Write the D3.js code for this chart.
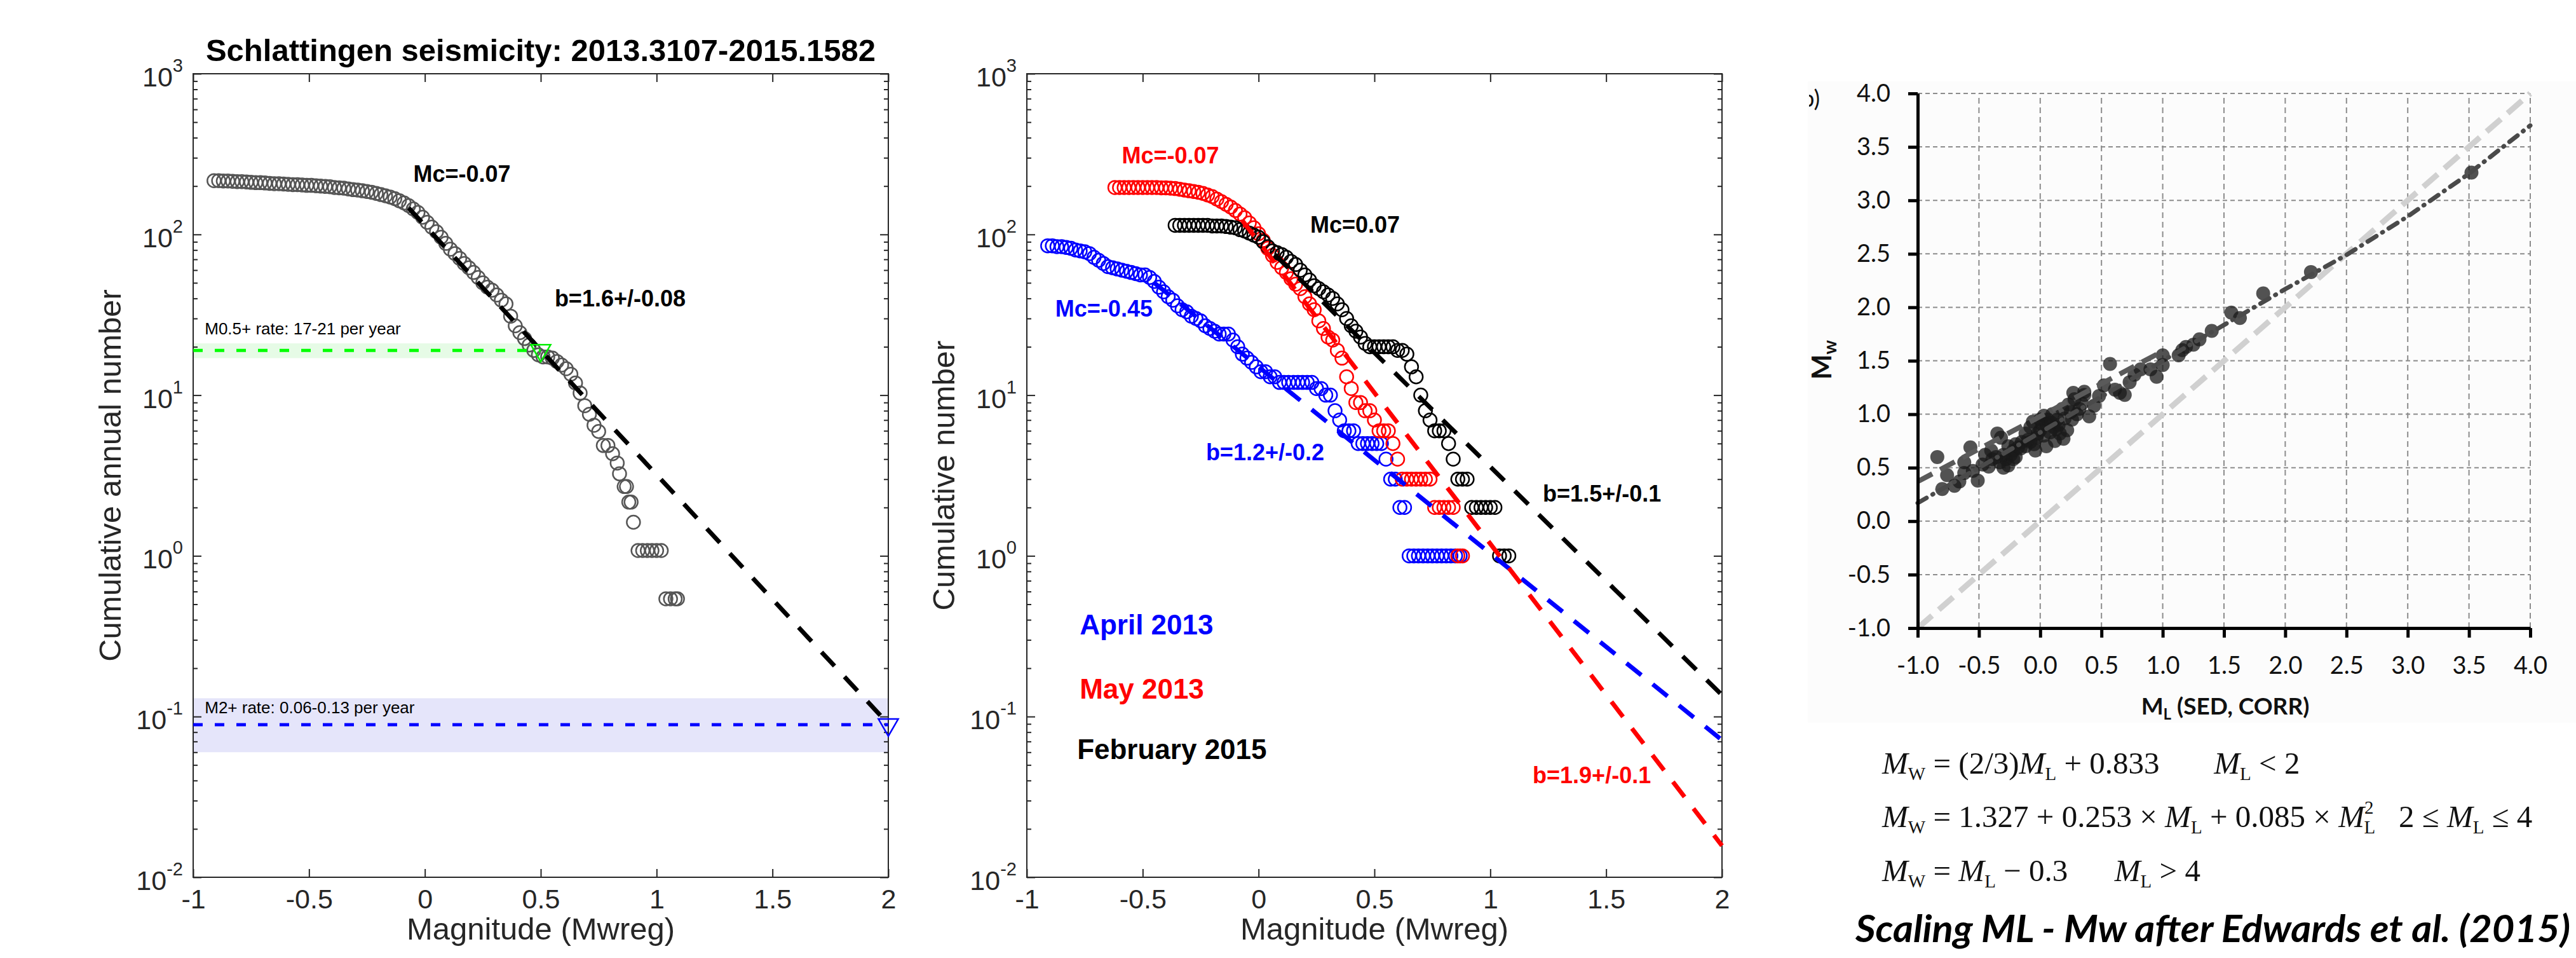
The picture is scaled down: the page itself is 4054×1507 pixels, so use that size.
<!DOCTYPE html>
<html>
<head>
<meta charset="utf-8">
<script src="https://cdn.jsdelivr.net/npm/d3@7"></script>
<style>
body { margin: 0; background: #fff; }
text { white-space: pre; }
</style>
</head>
<body>
<div id="chart"></div>
<script>
var W = 4054, H = 1507;

// ---- shared ticks ----
var magTicks = [-1, -0.5, 0, 0.5, 1, 1.5, 2];
var decadeExp = [-2, -1, 0, 1, 2, 3];
var mlTicks = [-1, -0.5, 0, 0.5, 1, 1.5, 2, 2.5, 3, 3.5, 4];

// ---- left panel: Schlattingen annual cumulative numbers [magnitude, annual number] ----
var schlattingen = [
  [-0.91,216],[-0.89,216],[-0.87,215],[-0.85,215],[-0.83,214],[-0.81,213],[-0.79,213],[-0.77,212],
  [-0.75,211],[-0.73,210],[-0.71,210],[-0.69,209],[-0.67,208],[-0.65,207],[-0.63,207],[-0.61,206],
  [-0.59,205],[-0.57,204],[-0.55,204],[-0.53,203],[-0.51,202],[-0.49,202],[-0.47,201],[-0.45,200],
  [-0.43,199],[-0.41,198],[-0.39,196],[-0.37,195],[-0.35,194],[-0.33,192],[-0.31,190],[-0.29,189],
  [-0.27,187],[-0.25,185],[-0.23,183],[-0.21,180],[-0.19,177],[-0.17,174],[-0.15,171],[-0.13,167],
  [-0.11,162],[-0.09,157],[-0.07,151],[-0.05,144],[-0.03,137],[-0.01,128],[0.01,119],[0.03,111],
  [0.05,104],[0.07,96],[0.09,88],[0.11,81],[0.13,76],[0.15,71],[0.17,66],[0.19,62],[0.21,58],
  [0.23,54],[0.25,50],[0.27,47],[0.29,45],[0.31,42],[0.33,39],[0.35,37],[0.37,31],[0.39,27],
  [0.41,24.5],[0.43,22.5],[0.45,20.5],[0.47,19],[0.49,17.8],[0.51,17.3],[0.53,17.3],[0.55,17],
  [0.57,16.2],[0.59,15.4],[0.61,14.6],[0.63,13.5],[0.65,11.9],[0.67,10.3],[0.69,8.6],[0.71,7.6],
  [0.73,6.5],[0.75,5.94],[0.77,4.86],[0.79,4.86],[0.81,4.32],[0.83,3.78],[0.84,3.24],[0.86,2.7],
  [0.87,2.7],[0.88,2.16],[0.89,2.16],[0.90,1.62],[0.92,1.08],[0.94,1.08],[0.96,1.08],[0.98,1.08],
  [1.00,1.08],[1.02,1.08],[1.04,0.54],[1.06,0.54],[1.08,0.54],[1.09,0.54]
];
var schlattingenFit = [[-0.07,146],[2,0.09]];
var rateM05 = [17, 19, 21];      // low, estimate, high (per year)
var rateM2 = [0.06, 0.089, 0.13];

// ---- middle panel: cumulative numbers per period [magnitude, number] ----
var april2013 = [
  [-0.91,85],[-0.89,85],[-0.87,84],[-0.85,84],[-0.83,83],[-0.81,82],[-0.79,80],[-0.77,79],[-0.75,78],
  [-0.73,76],[-0.71,72],[-0.69,69],[-0.67,66],[-0.65,63],[-0.63,62],[-0.61,61],[-0.59,60],[-0.57,59],
  [-0.55,58],[-0.53,57],[-0.51,56],[-0.49,56],[-0.47,54],[-0.45,51],[-0.43,47],[-0.41,44],[-0.39,41],
  [-0.37,39],[-0.35,36],[-0.33,34],[-0.31,33],[-0.29,31],[-0.27,30],[-0.25,29],[-0.23,27],[-0.21,26],
  [-0.19,25],[-0.17,24],[-0.15,24],[-0.13,24],[-0.11,22],[-0.09,20],[-0.07,18],[-0.05,17],[-0.03,16],
  [-0.01,15],[0.01,14],[0.03,14],[0.05,13],[0.07,13],[0.09,12],[0.11,12],[0.13,12],[0.15,12],[0.17,12],
  [0.19,12],[0.21,12],[0.23,12],[0.25,11],[0.27,11],[0.29,10],[0.31,10],[0.33,8],[0.35,7],[0.37,6],
  [0.39,6],[0.41,6],[0.43,5],[0.45,5],[0.47,5],[0.49,5],[0.51,5],[0.53,5],[0.55,4],[0.57,3],[0.59,3],
  [0.61,2],[0.63,2],[0.65,1],[0.67,1],[0.69,1],[0.71,1],[0.73,1],[0.75,1],[0.77,1],[0.79,1],[0.81,1],
  [0.83,1],[0.85,1],[0.87,1]
];
var may2013 = [
  [-0.62,196],[-0.60,196],[-0.58,196],[-0.56,196],[-0.54,196],[-0.52,196],[-0.50,196],[-0.48,196],
  [-0.46,196],[-0.44,196],[-0.42,195],[-0.40,195],[-0.38,194],[-0.36,193],[-0.34,191],[-0.32,189],
  [-0.30,187],[-0.28,185],[-0.26,183],[-0.24,180],[-0.22,176],[-0.20,172],[-0.18,166],[-0.16,160],
  [-0.14,154],[-0.12,148],[-0.10,141],[-0.08,134],[-0.06,127],[-0.04,118],[-0.02,110],[0.00,101],
  [0.02,92],[0.04,82],[0.06,74],[0.08,67],[0.10,62],[0.12,58],[0.14,53],[0.16,49],[0.18,46],[0.20,41],
  [0.22,37],[0.24,34],[0.26,29],[0.28,26],[0.30,23],[0.32,22],[0.34,19],[0.36,17],[0.38,13],[0.40,11],
  [0.42,9],[0.44,9],[0.46,8],[0.48,8],[0.50,7],[0.52,6],[0.54,6],[0.56,6],[0.58,5],[0.60,4],[0.62,3],
  [0.64,3],[0.66,3],[0.68,3],[0.70,3],[0.72,3],[0.74,3],[0.76,2],[0.78,2],[0.80,2],[0.82,2],[0.84,2],
  [0.86,1],[0.88,1]
];
var feb2015 = [
  [-0.36,114],[-0.34,114],[-0.32,114],[-0.30,114],[-0.28,114],[-0.26,114],[-0.24,114],[-0.22,114],
  [-0.20,113],[-0.18,113],[-0.16,113],[-0.14,112],[-0.12,111],[-0.10,110],[-0.08,107],[-0.06,105],
  [-0.04,102],[-0.02,99],[0.00,96],[0.02,90],[0.04,84],[0.06,79],[0.08,77],[0.10,75],[0.12,72],
  [0.14,68],[0.16,65],[0.18,60],[0.20,56],[0.22,52],[0.24,48],[0.26,46],[0.28,44],[0.30,42],[0.32,40],
  [0.34,37],[0.36,34],[0.38,30],[0.40,27],[0.42,25],[0.44,23],[0.46,21],[0.48,20],[0.50,20],[0.52,20],
  [0.54,20],[0.56,20],[0.58,20],[0.60,19],[0.62,19],[0.64,18],[0.66,15],[0.68,13],[0.70,10],[0.72,8],
  [0.74,7],[0.76,6],[0.78,6],[0.80,6],[0.82,5],[0.84,4],[0.86,3],[0.88,3],[0.90,3],[0.92,2],[0.94,2],
  [0.96,2],[0.98,2],[1.00,2],[1.02,2],[1.04,1],[1.06,1],[1.08,1]
];
var aprilFit = [[-0.45,50],[2,0.0714]];
var mayFit = [[-0.07,122],[2,0.0157]];
var febFit = [[0.07,75],[2,0.136]];

// ---- right panel: ML vs Mw [ML, Mw] ----
var mlMw = [
  [3.52,3.26],[2.21,2.33],[1.82,2.13],[1.56,1.95],[1.63,1.90],[1.40,1.78],[1.19,1.63],[1.13,1.55],
  [1.16,1.60],[1.00,1.55],[1.00,1.46],[0.57,1.47],[0.77,1.37],[0.82,1.42],[0.73,1.30],[0.61,1.23],
  [0.69,1.18],[0.65,1.20],[0.48,1.17],[0.36,1.18],[0.32,1.05],[0.23,1.09],[0.40,0.98],[0.44,1.08],
  [0.28,1.14],[0.36,1.21],[0.25,1.02],[0.20,0.96],[0.15,0.90],[0.11,0.88],[0.03,0.985],[0.05,0.91],
  [-0.06,0.93],[0.00,0.85],[0.03,0.80],[0.08,0.83],[0.19,0.77],[0.12,0.75],[-0.03,0.78],[-0.10,0.76],
  [-0.05,0.72],[-0.15,0.74],[-0.18,0.69],[-0.35,0.82],[-0.32,0.78],[-0.26,0.70],[-0.22,0.66],
  [-0.30,0.62],[-0.28,0.58],[-0.39,0.58],[-0.26,0.52],[-0.33,0.55],[-0.47,0.53],[-0.42,0.51],
  [-0.55,0.47],[-0.57,0.69],[-0.51,0.38],[-0.66,0.37],[-0.76,0.43],[-0.84,0.60],[-0.80,0.30],
  [-0.70,0.33],[-0.62,0.45],[-0.08,0.88],[0.00,0.95],[0.10,1.00],[-0.12,0.82],[0.14,0.95],[-0.20,0.72],
  [-0.45,0.62],[-0.40,0.66],[-0.36,0.60],[-0.24,0.62],[-0.20,0.60],[-0.16,0.68],[-0.12,0.70],
  [-0.08,0.74],[-0.02,0.82],[0.02,0.90],[0.06,0.95],[0.09,0.92],[0.13,0.86],[0.16,0.82],[0.22,0.85],
  [0.26,0.95],[0.30,1.00],[0.34,1.10],[0.18,1.05],[-0.04,0.66],[0.05,0.70],[-0.30,0.50],[-0.22,0.58],
  [0.27,1.20],[0.52,1.27],[0.90,1.42],[0.95,1.35],[1.25,1.65],[1.30,1.70],[-0.62,0.55]
];
var edwardsCurve = [[-1,0.17],[0,0.83],[1,1.50],[2,2.17],[2.5,2.49],[3,2.85],[3.5,3.25],[4,3.70]];
var linearFit = [[-1,0.37],[1.0,1.59]];
var oneToOne = [[-1,-1],[4,4]];

var svg = d3.select("#chart").append("svg")
  .attr("width", W).attr("height", H)
  .style("font-family", "'Liberation Sans', Arial, sans-serif");
svg.append("rect").attr("width", W).attr("height", H).attr("fill", "#fff");

var axisColor = "#262626";

function fmdPanel(left) {
  var x = d3.scaleLinear().domain([-1, 2]).range([left, left + 1094]);
  var y = d3.scaleLog().domain([0.01, 1000]).range([1380, 116]);
  return { x: x, y: y, g: svg.append("g") };
}

function drawFrame(p, ylabel) {
  var g = p.g, x = p.x, y = p.y;
  var x0 = x.range()[0], x1 = x.range()[1], y0 = y.range()[1], y1 = y.range()[0];
  var majors = decadeExp.map(function(e) { return Math.pow(10, e); });
  var minors = y.ticks().filter(function(v) {
    return Math.abs(Math.log10(v) - Math.round(Math.log10(v))) > 1e-6;
  });

  var bottom = g.append("g").attr("transform", "translate(0," + y1 + ")")
    .call(d3.axisBottom(x).tickValues(magTicks).tickSize(-13).tickSizeOuter(0)
      .tickPadding(18).tickFormat(function(d) { return String(d); }));
  bottom.selectAll("text").attr("font-size", 43).attr("fill", axisColor)
    .style("font-family", "'Liberation Sans', Arial, sans-serif");
  g.append("g").attr("transform", "translate(0," + y0 + ")")
    .call(d3.axisTop(x).tickValues(magTicks).tickSize(-13).tickSizeOuter(0).tickFormat(""));
  [[d3.axisLeft, x0], [d3.axisRight, x1]].forEach(function(a) {
    g.append("g").attr("transform", "translate(" + a[1] + ",0)")
      .call(a[0](y).tickValues(majors).tickSize(-13).tickSizeOuter(0).tickFormat(""));
    g.append("g").attr("transform", "translate(" + a[1] + ",0)")
      .call(a[0](y).tickValues(minors).tickSize(-7).tickSizeOuter(0).tickFormat(""));
  });
  g.selectAll(".domain").remove();
  g.selectAll(".tick line").attr("stroke", axisColor).attr("stroke-width", 2);

  g.append("rect").attr("x", x0).attr("y", y0).attr("width", x1 - x0).attr("height", y1 - y0)
    .attr("fill", "none").attr("stroke", axisColor).attr("stroke-width", 2);

  // 10^k labels
  var lab = g.append("g").selectAll("text").data(decadeExp).enter().append("text")
    .attr("x", x0 - 16).attr("y", function(e) { return y(Math.pow(10, e)) + 20; })
    .attr("text-anchor", "end").attr("fill", axisColor).attr("font-size", 43);
  lab.append("tspan").text("10");
  lab.append("tspan").attr("dy", -23).attr("font-size", 29).text(function(e) { return String(e); });

  g.append("text").attr("x", (x0 + x1) / 2).attr("y", 1478).attr("text-anchor", "middle")
    .attr("font-size", 49).attr("fill", axisColor).text("Magnitude (Mwreg)");
  g.append("text").attr("transform", "translate(" + (x0 - 114) + "," + ((y0 + y1) / 2) + ") rotate(-90)")
    .attr("text-anchor", "middle").attr("font-size", 49).attr("fill", axisColor).text(ylabel);
}

function circles(p, data, color) {
  p.g.append("g").selectAll("circle").data(data).enter().append("circle")
    .attr("cx", function(d) { return p.x(d[0]); })
    .attr("cy", function(d) { return p.y(d[1]); })
    .attr("r", 10.5).attr("fill", "none").attr("stroke", color).attr("stroke-width", 2.5);
}

function dashLine(p, data, color, width, dash) {
  p.g.append("path").datum(data)
    .attr("d", d3.line().x(function(d) { return p.x(d[0]); }).y(function(d) { return p.y(d[1]); }))
    .attr("fill", "none").attr("stroke", color).attr("stroke-width", width)
    .attr("stroke-dasharray", dash);
}

function note(p, m, n, str, color, size, bold) {
  p.g.append("text").attr("x", p.x(m)).attr("y", p.y(n)).attr("fill", color)
    .attr("font-size", size).attr("font-weight", bold ? "bold" : "normal").text(str);
}

function triangle(p, m, n, color) {
  p.g.append("path")
    .attr("d", d3.symbol().type(d3.symbolTriangle).size(420)())
    .attr("transform", "translate(" + p.x(m) + "," + p.y(n) + ") rotate(180)")
    .attr("fill", "none").attr("stroke", color).attr("stroke-width", 2.5);
}

// ===== left panel =====
var L = fmdPanel(304);
L.g.append("rect").attr("x", L.x(-1)).attr("y", L.y(rateM2[2]))
  .attr("width", L.x(2) - L.x(-1)).attr("height", L.y(rateM2[0]) - L.y(rateM2[2]))
  .attr("fill", "rgb(229,229,250)");
L.g.append("rect").attr("x", L.x(-1)).attr("y", L.y(rateM05[2]))
  .attr("width", L.x(0.5) - L.x(-1)).attr("height", L.y(rateM05[0]) - L.y(rateM05[2]))
  .attr("fill", "rgb(230,251,230)");
drawFrame(L, "Cumulative annual number");
circles(L, schlattingen, "#555555");
dashLine(L, [[-1, rateM05[1]], [0.5, rateM05[1]]], "#00ff00", 5, "15,19");
dashLine(L, [[-1, rateM2[1]], [2, rateM2[1]]], "#0000ff", 5, "15,19");
dashLine(L, schlattingenFit, "#000", 7, "30,23");
triangle(L, 0.5, rateM05[1], "#00ee00");
triangle(L, 2, rateM2[1], "#0000ff");
note(L, -0.05, 212, "Mc=-0.07", "#000", 36, true);
note(L, 0.56, 35.6, "b=1.6+/-0.08", "#000", 36, true);
note(L, -0.95, 23.9, "M0.5+ rate: 17-21 per year", "#000", 26, false);
note(L, -0.95, 0.105, "M2+ rate: 0.06-0.13 per year", "#000", 26, false);
L.g.append("text").attr("x", L.x(0.5)).attr("y", 96).attr("text-anchor", "middle")
  .attr("font-size", 49).attr("font-weight", "bold").attr("fill", "#000")
  .text("Schlattingen seismicity: 2013.3107-2015.1582");

// ===== middle panel =====
var M = fmdPanel(1616);
drawFrame(M, "Cumulative number");
circles(M, april2013, "#0000ff");
circles(M, may2013, "#ff0000");
circles(M, feb2015, "#000000");
dashLine(M, aprilFit, "#0000ff", 7, "30,23");
dashLine(M, mayFit, "#ff0000", 7, "30,23");
dashLine(M, febFit, "#000000", 7, "30,23");
note(M, -0.59, 276, "Mc=-0.07", "#ff0000", 36, true);
note(M, 0.223, 102.6, "Mc=0.07", "#000", 36, true);
note(M, -0.877, 30.8, "Mc=-0.45", "#0000ff", 36, true);
note(M, -0.227, 3.94, "b=1.2+/-0.2", "#0000ff", 36, true);
note(M, 1.227, 2.18, "b=1.5+/-0.1", "#000", 36, true);
note(M, 1.183, 0.0385, "b=1.9+/-0.1", "#ff0000", 36, true);
note(M, -0.772, 0.324, "April 2013", "#0000ff", 44, true);
note(M, -0.772, 0.129, "May 2013", "#ff0000", 44, true);
note(M, -0.783, 0.0545, "February 2015", "#000", 44, true);

// ===== right panel =====
var xR = d3.scaleLinear().domain([-1, 4]).range([3018, 3982]);
var yR = d3.scaleLinear().domain([-1, 4]).range([988, 147]);
var R = svg.append("g").style("font-family", "Lato, 'Open Sans', sans-serif");
R.append("rect").attr("x", 2845).attr("y", 128).attr("width", W - 2845).attr("height", 1009)
  .attr("fill", "#fcfcfc");

R.append("g").selectAll("line").data(mlTicks.slice(1)).enter().append("line")
  .attr("x1", xR(-1)).attr("x2", xR(4)).attr("y1", function(d) { return yR(d); }).attr("y2", function(d) { return yR(d); })
  .attr("stroke", "#8c8c8c").attr("stroke-width", 2).attr("stroke-dasharray", "7,5");
R.append("g").selectAll("line").data(mlTicks.slice(1)).enter().append("line")
  .attr("y1", yR(-1)).attr("y2", yR(4)).attr("x1", function(d) { return xR(d); }).attr("x2", function(d) { return xR(d); })
  .attr("stroke", "#8c8c8c").attr("stroke-width", 2).attr("stroke-dasharray", "9,6");

var lineR = d3.line().x(function(d) { return xR(d[0]); }).y(function(d) { return yR(d[1]); });
R.append("path").datum(oneToOne).attr("d", lineR).attr("fill", "none")
  .attr("stroke", "#d0d0d0").attr("stroke-width", 9).attr("stroke-dasharray", "30,14");
R.append("g").selectAll("circle").data(mlMw).enter().append("circle")
  .attr("cx", function(d) { return xR(d[0]); }).attr("cy", function(d) { return yR(d[1]); })
  .attr("r", 11).attr("fill", "#1a1a1a").attr("fill-opacity", 0.75);
R.append("path").datum(linearFit).attr("d", lineR).attr("fill", "none")
  .attr("stroke", "#5a5a5a").attr("stroke-width", 8).attr("stroke-dasharray", "26,14");
R.append("path").datum(edwardsCurve).attr("d", lineR).attr("fill", "none")
  .attr("stroke", "#4a4a4a").attr("stroke-width", 7).attr("stroke-linecap", "round")
  .attr("stroke-dasharray", "16,11,1,11");

var axB = R.append("g").attr("transform", "translate(0," + yR(-1) + ")")
  .call(d3.axisBottom(xR).tickValues(mlTicks).tickSize(15).tickSizeOuter(0).tickPadding(30)
    .tickFormat(function(d) { return d.toFixed(1); }));
var axL = R.append("g").attr("transform", "translate(" + xR(-1) + ",0)")
  .call(d3.axisLeft(yR).tickValues(mlTicks).tickSize(15).tickSizeOuter(0).tickPadding(28)
    .tickFormat(function(d) { return d.toFixed(1); }));
[axB, axL].forEach(function(a) {
  a.select(".domain").attr("stroke", "#000").attr("stroke-width", 5);
  a.selectAll(".tick line").attr("stroke", "#000").attr("stroke-width", 5);
  a.selectAll("text").attr("font-size", 38).attr("fill", "#111")
    .style("font-family", "Lato, 'Open Sans', sans-serif");
});

var xt = R.append("text").attr("x", 3502).attr("y", 1124).attr("text-anchor", "middle")
  .attr("font-size", 37).attr("font-weight", "bold").attr("fill", "#111");
xt.append("tspan").text("M");
xt.append("tspan").attr("font-size", 24).attr("dy", 8).text("L");
xt.append("tspan").attr("dy", -8).text(" (SED, CORR)");

var yt = R.append("text").attr("transform", "translate(2882,566) rotate(-90)")
  .attr("text-anchor", "middle").attr("font-size", 42).attr("font-weight", "bold").attr("fill", "#111");
yt.append("tspan").text("M");
yt.append("tspan").attr("font-size", 28).attr("dy", 8).text("w");

svg.append("clipPath").attr("id", "bclip").append("rect")
  .attr("x", 2847).attr("y", 120).attr("width", 40).attr("height", 70);
R.append("text").attr("x", 2864).attr("y", 168).attr("text-anchor", "end")
  .attr("font-size", 36).attr("fill", "#111").attr("clip-path", "url(#bclip)").text("b)");

// equations
var eq = R.append("g").style("font-family", "'Liberation Serif', 'Times New Roman', serif")
  .attr("font-size", 49).attr("fill", "#111");
function mSub(t, sub) {
  t.append("tspan").attr("font-style", "italic").text("M");
  t.append("tspan").attr("font-size", 29).attr("dy", 10).text(sub);
  return t.append("tspan").attr("dy", -10);
}
var e1 = eq.append("text").attr("x", 2962).attr("y", 1217);
mSub(e1, "W").text(" = (2/3)");
mSub(e1, "L").text(" + 0.833       ");
mSub(e1, "L").text(" < 2");

var e2 = eq.append("text").attr("x", 2962).attr("y", 1301);
mSub(e2, "W").text(" = 1.327 + 0.253 × ");
mSub(e2, "L").text(" + 0.085 × ");
e2.append("tspan").attr("font-style", "italic").text("M");
e2.append("tspan").attr("font-size", 29).attr("dy", -21).text("2");
e2.append("tspan").attr("font-size", 29).attr("dx", -15).attr("dy", 31).text("L");
e2.append("tspan").attr("dy", -10).text("   2 ≤ ");
mSub(e2, "L").text(" ≤ 4");

var e3 = eq.append("text").attr("x", 2962).attr("y", 1386);
mSub(e3, "W").text(" = ");
mSub(e3, "L").text(" − 0.3      ");
mSub(e3, "L").text(" > 4");

R.append("text").attr("x", 2920).attr("y", 1482)
  .attr("font-size", 60).attr("font-weight", "bold").attr("font-style", "italic").attr("fill", "#000")
  .attr("textLength", 1125).attr("lengthAdjust", "spacingAndGlyphs")
  .text("Scaling ML - Mw after Edwards et al. (2015)");
</script>
</body>
</html>
